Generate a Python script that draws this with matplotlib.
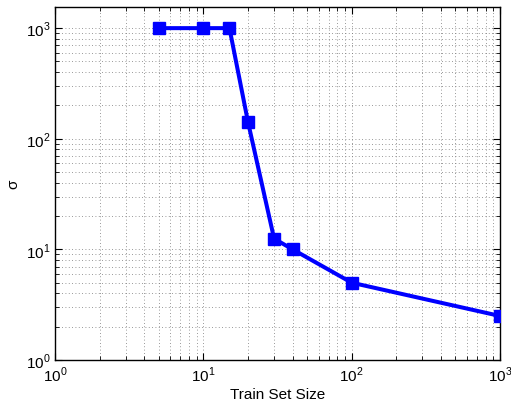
import matplotlib
matplotlib.use('Agg')
import matplotlib.pyplot as plt

plt.rcParams['font.family'] = ['Liberation Sans', 'DejaVu Sans']
plt.rcParams['mathtext.fontset'] = 'custom'
plt.rcParams['mathtext.rm'] = 'Liberation Sans'

train_size = [5, 10, 15, 20, 30, 40, 100, 1000]
sigma = [1000, 1000, 1000, 142, 12.5, 10, 5, 2.5]

fig = plt.figure(figsize=(5.11, 4.06), dpi=100)
ax = fig.add_axes([0.1076, 0.1108, 0.8709, 0.8692])

ax.loglog(train_size, sigma, color='#0000ff', linewidth=2.9,
          marker='s', markersize=8.5, markerfacecolor='#0000ff',
          markeredgecolor='#0000ff', zorder=3)

ax.set_xlim(1, 1000)
ax.set_ylim(1, 10 ** 3.19)
ax.set_xticks([1, 10, 100, 1000])
ax.set_xticklabels([r'$10^0$', r'$10^1$', r'$10^2$', r'$10^3$'])
ax.set_yticks([1, 10, 100, 1000])
ax.set_yticklabels([r'$10^0$', r'$10^1$', r'$10^2$', r'$10^3$'])

ax.grid(True, which='both', linestyle=(0, (1, 3)), color='#777777', linewidth=0.6)
ax.tick_params(which='both', direction='in', top=True, right=True, labelsize=11)
ax.tick_params(which='major', length=5)
ax.tick_params(which='minor', length=3)
for s in ax.spines.values():
    s.set_linewidth(1.0)

ax.set_xlabel('Train Set Size', fontsize=11, labelpad=2)
ax.set_ylabel('σ', fontsize=11, labelpad=4)

fig.savefig('out.png', dpi=100)
